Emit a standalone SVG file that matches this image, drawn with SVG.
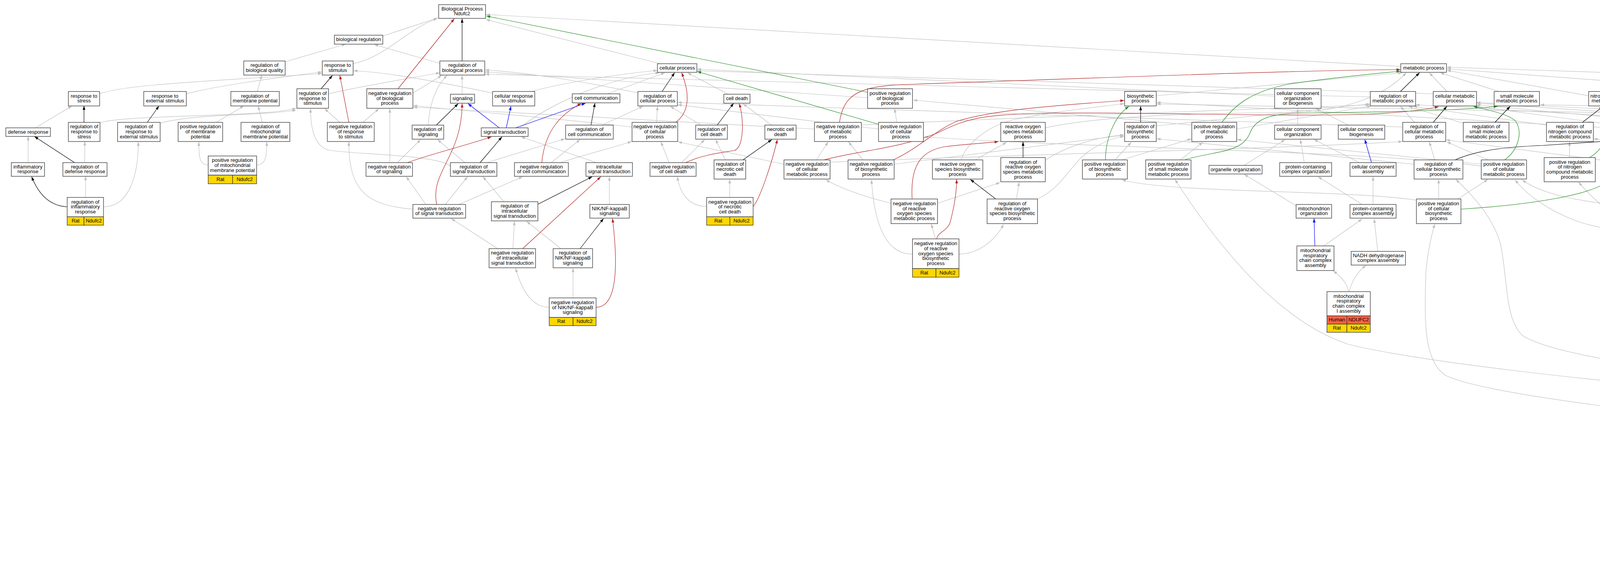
<svg xmlns="http://www.w3.org/2000/svg" width="6466" height="1435" viewBox="0 0 6466 1435">
<defs>
<marker id="ag" viewBox="0 0 10 7" refX="10" refY="3.5" markerWidth="10" markerHeight="7" orient="auto" markerUnits="userSpaceOnUse"><path d="M0,0L10,3.5L0,7z" fill="#c0c0c0"/></marker>
<marker id="ak" viewBox="0 0 10 7" refX="10" refY="3.5" markerWidth="10" markerHeight="7" orient="auto" markerUnits="userSpaceOnUse"><path d="M0,0L10,3.5L0,7z" fill="#000"/></marker>
<marker id="ar" viewBox="0 0 10 7" refX="10" refY="3.5" markerWidth="10" markerHeight="7" orient="auto" markerUnits="userSpaceOnUse"><path d="M0,0L10,3.5L0,7z" fill="#b22222"/></marker>
<marker id="agr" viewBox="0 0 10 7" refX="10" refY="3.5" markerWidth="10" markerHeight="7" orient="auto" markerUnits="userSpaceOnUse"><path d="M0,0L10,3.5L0,7z" fill="#228b22"/></marker>
<marker id="ab" viewBox="0 0 10 7" refX="10" refY="3.5" markerWidth="10" markerHeight="7" orient="auto" markerUnits="userSpaceOnUse"><path d="M0,0L10,3.5L0,7z" fill="#0000ff"/></marker>
</defs>
<style>
.n rect{fill:#fff;stroke:#333;stroke-width:1.3}
.n rect.gd{fill:#ffd700}
.n rect.hu{fill:#ff6347}
text{font-family:"Liberation Sans",Arial,sans-serif;font-size:13px;text-anchor:middle;fill:#000}
#edges path{fill:none;stroke-width:1.2}
.e{stroke:#c0c0c0;marker-end:url(#ag)}
.k{stroke:#000;marker-end:url(#ak)}
.r{stroke:#b22222;marker-end:url(#ar)}
.g{stroke:#228b22;marker-end:url(#agr)}
.b{stroke:#0000ff;marker-end:url(#ab)}
</style>
<rect width="6466" height="1435" fill="#fff"/>
<g id="edges">
<path class="e" d="M91,327 L184,271"/>
<path class="e" d="M256,314 C320,292 700,300 758,276"/>
<path class="e" d="M410,315 C500,290 700,295 758,281"/>
<path class="e" d="M554,313 L624,271"/>
<path class="e" d="M671,313 L661,271"/>
<path class="e" d="M217,416 L217,362"/>
<path class="e" d="M72,416 L72,349"/>
<path class="e" d="M219,505 L219,451"/>
<path class="e" d="M265,529 C330,529 354,450 354,363"/>
<path class="e" d="M533,422 C510,422 509,400 509,363"/>
<path class="e" d="M657,422 C680,422 683,400 683,363"/>
<path class="e" d="M659,234 L670,192"/>
<path class="e" d="M730,158 L885,113"/>
<path class="e" d="M255,240 C320,214 600,205 824,188"/>
<path class="e" d="M477,240 C550,220 700,200 824,184"/>
<path class="e" d="M870,313 L831,278"/>
<path class="e" d="M929,313 L970,278"/>
<path class="e" d="M841,240 C900,225 1050,200 1126,186"/>
<path class="e" d="M1057,238 L1131,193"/>
<path class="e" d="M904,163 C990,145 1040,75 1120,47"/>
<path class="e" d="M980,92 L1121,46"/>
<path class="e" d="M1126,162 L958,114"/>
<path class="e" d="M1183,241 L1183,193"/>
<path class="e" d="M1096,320 C1100,260 1120,215 1145,193"/>
<path class="e" d="M998,416 L998,278"/>
<path class="e" d="M1017,416 L1077,357"/>
<path class="e" d="M1057,535 C940,525 893,490 893,363"/>
<path class="e" d="M1090,523 L1040,452"/>
<path class="e" d="M1140,523 L1197,452"/>
<path class="e" d="M1175,523 L1338,452"/>
<path class="e" d="M1190,416 L1120,357"/>
<path class="e" d="M1246,416 L1446,355"/>
<path class="e" d="M1153,425 C1120,395 900,395 842,384 C805,375 795,330 795,278"/>
<path class="e" d="M1411,416 L1485,357"/>
<path class="e" d="M1435,416 C1500,395 1560,380 1617,362"/>
<path class="e" d="M1527,416 L1334,350"/>
<path class="e" d="M1331,327 C1400,270 1550,200 1688,186"/>
<path class="e" d="M1261,238 C1150,215 1000,185 905,181"/>
<path class="e" d="M1360,234 C1450,210 1580,190 1683,180"/>
<path class="e" d="M1555,240 L1702,186"/>
<path class="e" d="M1635,238 C1500,210 1350,185 1242,179"/>
<path class="e" d="M1864,241 L1760,186"/>
<path class="e" d="M1541,320 L1646,272"/>
<path class="e" d="M1681,313 L1683,272"/>
<path class="e" d="M1618,325 C1400,300 1200,285 1058,270"/>
<path class="e" d="M1794,320 L1716,272"/>
<path class="e" d="M1975,320 L1902,265"/>
<path class="e" d="M1745,416 L1804,357"/>
<path class="e" d="M1713,416 L1692,363"/>
<path class="e" d="M1857,409 L1832,357"/>
<path class="e" d="M1868,505 L1868,459"/>
<path class="e" d="M1809,528 C1760,528 1740,490 1734,452"/>
<path class="e" d="M1290,516 L1236,452"/>
<path class="e" d="M1313,636 L1317,566"/>
<path class="e" d="M1274,636 L1155,559"/>
<path class="e" d="M1436,636 L1348,566"/>
<path class="e" d="M1560,523 L1560,452"/>
<path class="e" d="M1467,762 L1467,686"/>
<path class="e" d="M1406,786 C1360,786 1335,740 1320,686"/>
<path class="e" d="M1690,163 L1244,50"/>
<path class="e" d="M3586,170 L1244,37"/>
<path class="e" d="M2221,250 L1242,184"/>
<path class="e" d="M2296,313 L2290,278"/>
<path class="e" d="M2249,330 L1735,268"/>
<path class="e" d="M2085,330 C1700,310 1300,290 1058,274"/>
<path class="e" d="M2205,320 C2600,300 3200,280 3506,268"/>
<path class="e" d="M2090,409 L2120,363"/>
<path class="e" d="M2007,420 L1736,363"/>
<path class="e" d="M2125,415 C2600,395 3300,380 3590,362"/>
<path class="e" d="M2209,409 L2172,363"/>
<path class="e" d="M2289,420 L2877,346"/>
<path class="e" d="M2400,520 L2560,467"/>
<path class="e" d="M2281,520 C2200,500 2150,480 2114,460"/>
<path class="e" d="M2602,509 L2609,466"/>
<path class="e" d="M2656,509 C2720,480 2740,420 2790,385 C2820,365 2850,352 2878,349"/>
<path class="e" d="M2395,611 L2384,573"/>
<path class="e" d="M2336,650 C2280,650 2240,600 2231,460"/>
<path class="e" d="M2455,650 C2500,650 2545,620 2569,574"/>
<path class="e" d="M2496,409 L2577,364"/>
<path class="e" d="M2461,409 C2470,370 2530,320 2600,305 C2700,285 2800,275 2878,265"/>
<path class="e" d="M2676,410 C2720,380 2800,350 2877,345"/>
<path class="e" d="M2676,327 C2800,300 3000,290 3300,288 C3450,286 3550,240 3600,186"/>
<path class="e" d="M2960,322 L3507,266"/>
<path class="e" d="M2960,245 L3590,186"/>
<path class="e" d="M2854,409 L2896,364"/>
<path class="e" d="M2872,409 L3050,355"/>
<path class="e" d="M3022,409 L3079,364"/>
<path class="e" d="M3051,320 L2338,256"/>
<path class="e" d="M3166,330 L3510,271"/>
<path class="e" d="M3792,425 C3500,385 2800,380 2366,350"/>
<path class="e" d="M3185,423 L3290,357"/>
<path class="e" d="M3339,416 L3329,357"/>
<path class="e" d="M3480,416 L3364,357"/>
<path class="e" d="M3322,320 L3322,278"/>
<path class="e" d="M3452,320 L3369,278"/>
<path class="e" d="M3263,246 L1785,177"/>
<path class="e" d="M3318,526 L3185,446"/>
<path class="e" d="M3487,523 L3374,452"/>
<path class="e" d="M3515,523 L3515,452"/>
<path class="e" d="M3389,629 L3487,560"/>
<path class="e" d="M3527,643 L3518,560"/>
<path class="e" d="M3452,746 C3450,725 3430,705 3413,693"/>
<path class="e" d="M3454,746 C3460,720 3475,695 3497,679"/>
<path class="e" d="M3508,248 L1242,190"/>
<path class="e" d="M3704,234 L3659,186"/>
<path class="e" d="M3669,240 L1785,181"/>
<path class="e" d="M3837,234 L3687,186"/>
<path class="e" d="M4067,245 L3704,180"/>
<path class="e" d="M4625,245 L3704,176"/>
<path class="e" d="M5929,245 L3704,172"/>
<path class="e" d="M3621,313 L3585,272"/>
<path class="e" d="M3591,325 L1735,262"/>
<path class="e" d="M3748,316 L3606,272"/>
<path class="e" d="M3959,320 L3618,272"/>
<path class="e" d="M4175,330 L2961,262"/>
<path class="e" d="M4175,325 L3777,272"/>
<path class="e" d="M4443,330 L3780,268"/>
<path class="e" d="M4625,325 L3624,268"/>
<path class="e" d="M4784,330 L3780,264"/>
<path class="e" d="M4945,322 L3780,262"/>
<path class="e" d="M5121,320 L4188,268"/>
<path class="e" d="M5669,322 L5920,270"/>
<path class="e" d="M5931,313 L5966,272"/>
<path class="e" d="M5837,320 L4188,264"/>
<path class="e" d="M6046,313 L6008,272"/>
<path class="e" d="M6015,325 L2961,266"/>
<path class="e" d="M6291,322 L6050,261"/>
<path class="e" d="M3673,409 L3659,363"/>
<path class="e" d="M3620,420 L2961,355"/>
<path class="e" d="M3809,409 L3704,363"/>
<path class="e" d="M3792,420 L3167,357"/>
<path class="e" d="M4018,403 L4018,363"/>
<path class="e" d="M4181,420 L3702,358"/>
<path class="e" d="M3683,509 L3683,459"/>
<path class="e" d="M3732,509 L3809,459"/>
<path class="e" d="M3626,512 C3450,485 3000,495 2872,460"/>
<path class="e" d="M4234,516 L4243,459"/>
<path class="e" d="M4169,529 C4050,515 3950,500 3897,460"/>
<path class="e" d="M4362,516 L4285,459"/>
<path class="e" d="M4234,636 L4230,566"/>
<path class="e" d="M4270,636 L4362,566"/>
<path class="e" d="M4601,409 L4538,357"/>
<path class="e" d="M4700,509 C4720,470 4725,420 4709,363"/>
<path class="e" d="M4609,525 C4400,480 4300,380 4080,355"/>
<path class="e" d="M4489,629 L4601,573"/>
<path class="e" d="M4369,629 C4300,600 4150,600 4050,570 C3960,540 3900,490 3879,460"/>
<path class="e" d="M4340,658 C4250,620 4150,590 4041,466"/>
<path class="e" d="M5440,643 L5454,566"/>
<path class="e" d="M5489,643 L6127,452"/>
<path class="e" d="M5364,660 C5000,640 4850,560 4695,460"/>
<path class="e" d="M5436,516 L5377,459"/>
<path class="e" d="M5532,526 C5650,505 5820,490 5826,420 C5830,350 5800,300 5750,296 C5500,290 4500,280 3943,268"/>
<path class="e" d="M4836,409 L4836,357"/>
<path class="e" d="M4992,409 L5002,363"/>
<path class="e" d="M5171,409 L5179,363"/>
<path class="e" d="M5288,412 L4888,357"/>
<path class="e" d="M5300,409 L5076,362"/>
<path class="e" d="M5305,409 L5232,363"/>
<path class="e" d="M5401,409 L5535,363"/>
<path class="e" d="M5340,409 C5340,360 5320,310 5270,300 C5100,280 4900,270 4740,257"/>
<path class="e" d="M5484,409 L5254,349"/>
<path class="e" d="M5552,409 L5580,363"/>
<path class="e" d="M5577,409 L5836,350"/>
<path class="e" d="M5682,409 L5636,363"/>
<path class="e" d="M5786,412 L6008,363"/>
<path class="e" d="M5938,409 L5920,363"/>
<path class="e" d="M5983,409 L6039,363"/>
<path class="e" d="M6180,416 C6185,340 6140,285 6047,266"/>
<path class="e" d="M6135,416 C6000,380 5500,374 4900,372 C4700,370 4600,365 4570,357"/>
<path class="e" d="M6355,409 L6355,363"/>
<path class="e" d="M6302,409 L6134,357"/>
<path class="e" d="M4796,420 L4301,350"/>
<path class="e" d="M5092,418 L4301,354"/>
<path class="e" d="M4951,516 L4871,459"/>
<path class="e" d="M4985,516 L4985,459"/>
<path class="e" d="M5029,516 L5120,459"/>
<path class="e" d="M5057,526 C5300,520 5500,500 5661,459"/>
<path class="e" d="M5162,520 L5039,459"/>
<path class="e" d="M5211,516 L5183,459"/>
<path class="e" d="M5297,522 L5478,459"/>
<path class="e" d="M5297,530 C5500,510 5700,490 5880,459"/>
<path class="e" d="M6061,516 L6159,452"/>
<path class="e" d="M6036,516 C6050,470 6060,420 6068,363"/>
<path class="e" d="M6180,523 L6180,452"/>
<path class="e" d="M6145,523 C6100,490 5950,485 5566,481 C5000,478 4800,480 4701,455"/>
<path class="e" d="M6238,532 C6350,520 6460,510 6455,450 C6450,410 6430,380 6418,363"/>
<path class="e" d="M6082,636 L6039,566"/>
<path class="e" d="M6120,636 L6166,559"/>
<path class="e" d="M6156,640 C6250,610 6320,540 6341,459"/>
<path class="e" d="M5081,780 L5377,679"/>
<path class="e" d="M5405,780 L5426,679"/>
<path class="e" d="M5555,773 L5454,679"/>
<path class="e" d="M5587,773 C5600,700 5640,610 5720,590 L5966,552"/>
<path class="e" d="M5570,773 C5580,700 5540,610 5470,590 C5300,580 5150,578 5060,565"/>
<path class="e" d="M4667,886 L4675,573"/>
<path class="e" d="M4601,893 C4560,870 4545,830 4545,760 C4545,640 4510,600 4457,566"/>
<path class="e" d="M4962,894 L5011,817"/>
<path class="e" d="M4976,894 C5050,875 5300,878 5400,870 C5480,860 5530,840 5552,823"/>
<path class="e" d="M5106,894 L5046,817"/>
<path class="e" d="M5137,894 L5478,459"/>
<path class="e" d="M5302,894 L5082,817"/>
<path class="e" d="M5400,894 C5550,860 5700,800 5703,732 C5710,660 5800,645 6145,559"/>
<path class="e" d="M5527,886 L5426,817"/>
<path class="e" d="M5671,893 L5430,817"/>
<path class="e" d="M5833,886 L5654,823"/>
<path class="e" d="M4545,977 L4611,937"/>
<path class="e" d="M4481,977 L4425,693"/>
<path class="e" d="M4433,1000 C4100,980 3600,920 3450,880 C3300,830 3150,680 3008,459"/>
<path class="e" d="M4666,977 L4667,937"/>
<path class="e" d="M4594,990 C4400,960 4000,920 3900,860 C3850,820 3860,700 3840,620 C3820,550 3760,490 3727,459"/>
<path class="e" d="M4886,985 L4734,936"/>
<path class="e" d="M5109,977 L5113,930"/>
<path class="e" d="M5057,977 L4983,930"/>
<path class="e" d="M5155,977 C5220,950 5250,900 5250,800 C5250,700 5245,620 5232,566"/>
<path class="e" d="M5236,985 L5155,930"/>
<path class="e" d="M5285,985 L5337,930"/>
<path class="e" d="M5400,977 L5375,930"/>
<path class="e" d="M5426,977 C5440,920 5550,880 5700,850 L6064,686"/>
<path class="e" d="M5573,977 L5573,937"/>
<path class="e" d="M5622,977 L5692,937"/>
<path class="e" d="M5689,977 L5619,937"/>
<path class="e" d="M5800,977 L5864,937"/>
<path class="e" d="M5845,980 L5780,937"/>
<path class="e" d="M5899,972 L5903,937"/>
<path class="e" d="M4666,1071 L4666,1029"/>
<path class="e" d="M4609,1071 L4538,1029"/>
<path class="e" d="M4609,1095 C4300,1065 3800,1010 3700,960 C3640,920 3648,800 3650,700 C3655,640 3665,600 3673,573"/>
<path class="e" d="M4864,1077 L4916,1029"/>
<path class="e" d="M4783,1077 C4700,1060 4600,1045 4545,1030"/>
<path class="e" d="M4980,1071 L4962,1029"/>
<path class="e" d="M4944,1075 L4741,1016"/>
<path class="e" d="M5264,1077 L5264,1021"/>
<path class="e" d="M5221,1077 L5144,1029"/>
<path class="e" d="M5328,1088 L5377,1029"/>
<path class="e" d="M5433,1084 L5538,1029"/>
<path class="e" d="M5374,1092 L5295,1021"/>
<path class="e" d="M5636,1071 L5604,1029"/>
<path class="e" d="M5689,1071 L5713,1036"/>
<path class="e" d="M5728,1075 L5836,1036"/>
<path class="e" d="M4990,1169 L4994,1134"/>
<path class="e" d="M4934,1169 L4874,1128"/>
<path class="e" d="M4923,1182 L4727,1132"/>
<path class="e" d="M5204,1176 L5004,1029"/>
<path class="e" d="M5398,1182 L5415,1120"/>
<path class="e" d="M5443,1185 L5594,1132"/>
<path class="e" d="M5335,1190 L5299,1128"/>
<path class="e" d="M5155,1268 L5208,1226"/>
<path class="e" d="M5061,1288 C4950,1270 4850,1240 4843,1128"/>
<path class="e" d="M5267,1268 L5257,1226"/>
<path class="e" d="M5232,1268 L5039,1134"/>
<path class="e" d="M5135,1377 C5115,1375 5113,1350 5113,1319"/>
<path class="e" d="M5258,1377 C5280,1375 5281,1350 5281,1319"/>
<path class="e" d="M5135,1380 C5050,1370 5010,1300 4997,1232"/>
<path class="k" d="M215,313 L215,271"/>
<path class="k" d="M377,313 L407,271"/>
<path class="k" d="M191,416 L88,349"/>
<path class="k" d="M172,529 C130,527 100,500 81,452"/>
<path class="k" d="M822,227 L851,193"/>
<path class="k" d="M1183,156 L1183,48"/>
<path class="k" d="M1117,320 L1173,265"/>
<path class="k" d="M1229,416 L1285,350"/>
<path class="k" d="M1513,320 L1523,264"/>
<path class="k" d="M1695,234 L1727,186"/>
<path class="k" d="M1836,320 L1878,264"/>
<path class="k" d="M1902,409 L1976,357"/>
<path class="k" d="M1376,523 L1516,452"/>
<path class="k" d="M1485,636 L1545,559"/>
<path class="k" d="M2549,509 L2484,459"/>
<path class="k" d="M2619,403 L2619,363"/>
<path class="k" d="M2920,313 L2920,272"/>
<path class="k" d="M3585,234 L3634,186"/>
<path class="k" d="M3669,313 L3704,272"/>
<path class="k" d="M3827,313 L3866,272"/>
<path class="k" d="M4051,313 L4104,272"/>
<path class="k" d="M4682,313 L4682,272"/>
<path class="k" d="M3725,409 C3780,385 3850,376 3950,372 L4172,357"/>
<path class="k" d="M4300,409 L4464,357"/>
<path class="k" d="M4450,516 L4580,459"/>
<path class="k" d="M4747,523 C4900,500 5200,490 5295,459"/>
<path class="k" d="M4731,890 L4973,817"/>
<path class="k" d="M4731,977 L4885,930"/>
<path class="k" d="M4994,977 L5085,930"/>
<path class="k" d="M5029,1071 L5074,1029"/>
<path class="k" d="M5289,1176 L5380,1121"/>
<path class="k" d="M5306,1268 L5345,1219"/>
<path class="r" d="M893,313 L870,193"/>
<path class="r" d="M1019,227 L1163,48"/>
<path class="r" d="M1043,416 C1100,395 1200,370 1258,350"/>
<path class="r" d="M1118,523 C1100,440 1183,400 1183,265"/>
<path class="r" d="M1387,416 C1395,330 1440,290 1488,264"/>
<path class="r" d="M1730,313 C1760,290 1770,250 1745,186"/>
<path class="r" d="M1755,416 C1800,395 1850,390 1880,385 C1905,378 1905,300 1892,265"/>
<path class="r" d="M1928,528 C1945,510 1975,420 1990,357"/>
<path class="r" d="M1338,636 L1538,452"/>
<path class="r" d="M1526,786 C1575,786 1585,700 1568,559"/>
<path class="r" d="M2149,313 C2160,240 2200,220 2320,216 C2800,200 3300,180 3585,178"/>
<path class="r" d="M2109,409 C2200,385 2300,380 2400,340 C2480,300 2520,295 2650,290 C2900,285 3300,300 3500,292 C3600,288 3650,280 3683,273"/>
<path class="r" d="M2287,409 C2350,380 2400,330 2450,310 C2550,280 2700,270 2878,257"/>
<path class="r" d="M2335,509 C2330,420 2360,385 2420,375 C2480,368 2530,366 2556,362"/>
<path class="r" d="M2398,611 C2400,595 2425,590 2432,570 C2440,540 2449,500 2449,459"/>
<path class="g" d="M2221,236 L1245,41"/>
<path class="g" d="M2249,318 L1785,183"/>
<path class="g" d="M2830,409 C2830,360 2850,300 2890,272"/>
<path class="g" d="M3034,408 C3120,385 3180,390 3200,340 C3215,300 3260,290 3340,289 C3500,287 3700,285 3834,272"/>
<path class="g" d="M3128,313 C3160,270 3200,235 3300,215 C3400,200 3500,190 3585,182"/>
<path class="g" d="M3852,409 C3885,385 3900,340 3880,310 C3860,290 3800,280 3772,272"/>
<path class="g" d="M4069,403 C4110,380 4125,330 4125,272"/>
<path class="g" d="M3740,535 C3900,525 4100,500 4130,450 C4150,400 4180,370 4203,357"/>
<path class="g" d="M4275,516 C4350,480 4440,420 4492,357"/>
<path class="g" d="M4285,636 C4350,600 4450,600 4500,560 C4560,520 4600,480 4615,459"/>
<path class="g" d="M4495,659 C4800,650 5080,620 5100,560 C5115,500 5200,470 5299,459"/>
<path class="g" d="M4538,977 C4600,955 4700,945 4780,895 C4860,845 4930,830 4987,817"/>
<path class="g" d="M4720,1071 C4770,1030 4790,960 4878,930"/>
<path class="g" d="M4832,1077 C4825,1000 4860,955 4950,945 L5078,930"/>
<path class="g" d="M5047,1169 C5080,1140 5100,1080 5100,1029"/>
<path class="g" d="M5122,1268 C5130,1200 5200,1150 5300,1140 L5384,1120"/>
<path class="g" d="M5258,1373 C5320,1365 5370,1320 5387,1219"/>
<path class="b" d="M1278,327 L1198,265"/>
<path class="b" d="M1296,327 L1308,272"/>
<path class="b" d="M1320,327 L1499,264"/>
<path class="b" d="M3511,416 L3494,357"/>
<path class="b" d="M3366,629 L3364,559"/>
</g>
<g id="n1" class="n"><rect x="1123" y="12" width="120" height="35"/><text x="1183" y="26.6">Biological Process<tspan x="1183" dy="12.7">Ndufc2</tspan></text></g>
<g id="n2" class="n"><rect x="856" y="90" width="124" height="23"/><text x="918" y="105">biological regulation</text></g>
<g id="n3" class="n"><rect x="624" y="156" width="106" height="36"/><text x="677" y="171.2">regulation of<tspan x="677" dy="12.7">biological quality</tspan></text></g>
<g id="n4" class="n"><rect x="825" y="156" width="79" height="36"/><text x="864.5" y="171.2">response to<tspan x="864.5" dy="12.7">stimulus</tspan></text></g>
<g id="n5" class="n"><rect x="1126" y="156" width="115" height="36"/><text x="1183.5" y="171.2">regulation of<tspan x="1183.5" dy="12.7">biological process</tspan></text></g>
<g id="n6" class="n"><rect x="1683" y="163" width="101" height="22"/><text x="1733.5" y="177.5">cellular process</text></g>
<g id="n7" class="n"><rect x="3586" y="163" width="117" height="22"/><text x="3644.5" y="177.5">metabolic process</text></g>
<g id="n8" class="n"><rect x="175" y="234" width="80" height="37"/><text x="215" y="249.7">response to<tspan x="215" dy="12.7">stress</tspan></text></g>
<g id="n9" class="n"><rect x="368" y="234" width="109" height="37"/><text x="422.5" y="249.7">response to<tspan x="422.5" dy="12.7">external stimulus</tspan></text></g>
<g id="n10" class="n"><rect x="591" y="234" width="124" height="37"/><text x="653" y="249.7">regulation of<tspan x="653" dy="12.7">membrane potential</tspan></text></g>
<g id="n11" class="n"><rect x="760" y="227" width="81" height="50"/><text x="800.5" y="242.8">regulation of<tspan x="800.5" dy="12.7">response to</tspan><tspan x="800.5" dy="12.7">stimulus</tspan></text></g>
<g id="n12" class="n"><rect x="939" y="227" width="118" height="50"/><text x="998" y="242.8">negative regulation<tspan x="998" dy="12.7">of biological</tspan><tspan x="998" dy="12.7">process</tspan></text></g>
<g id="n13" class="n"><rect x="1153" y="241" width="62" height="23"/><text x="1184" y="256">signaling</text></g>
<g id="n14" class="n"><rect x="1261" y="234" width="108" height="37"/><text x="1315" y="249.7">cellular response<tspan x="1315" dy="12.7">to stimulus</tspan></text></g>
<g id="n15" class="n"><rect x="1465" y="240" width="122" height="23"/><text x="1526" y="255">cell communication</text></g>
<g id="n16" class="n"><rect x="1633" y="234" width="101" height="37"/><text x="1683.5" y="249.7">regulation of<tspan x="1683.5" dy="12.7">cellular process</tspan></text></g>
<g id="n17" class="n"><rect x="1853" y="241" width="67" height="23"/><text x="1886.5" y="256">cell death</text></g>
<g id="n18" class="n"><rect x="2221" y="227" width="115" height="50"/><text x="2278.5" y="242.8">positive regulation<tspan x="2278.5" dy="12.7">of biological</tspan><tspan x="2278.5" dy="12.7">process</tspan></text></g>
<g id="n19" class="n"><rect x="2879" y="234" width="81" height="37"/><text x="2919.5" y="249.7">biosynthetic<tspan x="2919.5" dy="12.7">process</tspan></text></g>
<g id="n20" class="n"><rect x="3263" y="227" width="119" height="50"/><text x="3322.5" y="242.8">cellular component<tspan x="3322.5" dy="12.7">organization</tspan><tspan x="3322.5" dy="12.7">or biogenesis</tspan></text></g>
<g id="n21" class="n"><rect x="3508" y="234" width="116" height="37"/><text x="3566" y="249.7">regulation of<tspan x="3566" dy="12.7">metabolic process</tspan></text></g>
<g id="n22" class="n"><rect x="3669" y="234" width="111" height="37"/><text x="3724.5" y="249.7">cellular metabolic<tspan x="3724.5" dy="12.7">process</tspan></text></g>
<g id="n23" class="n"><rect x="3825" y="234" width="116" height="37"/><text x="3883" y="249.7">small molecule<tspan x="3883" dy="12.7">metabolic process</tspan></text></g>
<g id="n24" class="n"><rect x="4067" y="234" width="120" height="37"/><text x="4127" y="249.7">nitrogen compound<tspan x="4127" dy="12.7">metabolic process</tspan></text></g>
<g id="n25" class="n"><rect x="4625" y="234" width="113" height="37"/><text x="4681.5" y="249.7">primary metabolic<tspan x="4681.5" dy="12.7">process</tspan></text></g>
<g id="n26" class="n"><rect x="5929" y="234" width="116" height="37"/><text x="5987" y="249.7">organic substance<tspan x="5987" dy="12.7">metabolic process</tspan></text></g>
<g id="n27" class="n"><rect x="15" y="327" width="114" height="22"/><text x="72" y="341.5">defense response</text></g>
<g id="n28" class="n"><rect x="175" y="313" width="81" height="49"/><text x="215.5" y="328.3">regulation of<tspan x="215.5" dy="12.7">response to</tspan><tspan x="215.5" dy="12.7">stress</tspan></text></g>
<g id="n29" class="n"><rect x="301" y="313" width="109" height="49"/><text x="355.5" y="328.3">regulation of<tspan x="355.5" dy="12.7">response to</tspan><tspan x="355.5" dy="12.7">external stimulus</tspan></text></g>
<g id="n30" class="n"><rect x="456" y="313" width="114" height="49"/><text x="513" y="328.3">positive regulation<tspan x="513" dy="12.7">of membrane</tspan><tspan x="513" dy="12.7">potential</tspan></text></g>
<g id="n31" class="n"><rect x="617" y="313" width="125" height="49"/><text x="679.5" y="328.3">regulation of<tspan x="679.5" dy="12.7">mitochondrial</tspan><tspan x="679.5" dy="12.7">membrane potential</tspan></text></g>
<g id="n32" class="n"><rect x="838" y="313" width="120" height="49"/><text x="898" y="328.3">negative regulation<tspan x="898" dy="12.7">of response</tspan><tspan x="898" dy="12.7">to stimulus</tspan></text></g>
<g id="n33" class="n"><rect x="1055" y="320" width="81" height="36"/><text x="1095.5" y="335.2">regulation of<tspan x="1095.5" dy="12.7">signaling</tspan></text></g>
<g id="n34" class="n"><rect x="1232" y="327" width="120" height="22"/><text x="1292" y="341.5">signal transduction</text></g>
<g id="n35" class="n"><rect x="1448" y="320" width="122" height="36"/><text x="1509" y="335.2">regulation of<tspan x="1509" dy="12.7">cell communication</tspan></text></g>
<g id="n36" class="n"><rect x="1618" y="313" width="117" height="49"/><text x="1676.5" y="328.3">negative regulation<tspan x="1676.5" dy="12.7">of cellular</tspan><tspan x="1676.5" dy="12.7">process</tspan></text></g>
<g id="n37" class="n"><rect x="1781" y="320" width="81" height="36"/><text x="1821.5" y="335.2">regulation of<tspan x="1821.5" dy="12.7">cell death</tspan></text></g>
<g id="n38" class="n"><rect x="1958" y="320" width="80" height="36"/><text x="1998" y="335.2">necrotic cell<tspan x="1998" dy="12.7">death</tspan></text></g>
<g id="n39" class="n"><rect x="2085" y="313" width="120" height="49"/><text x="2145" y="328.3">negative regulation<tspan x="2145" dy="12.7">of metabolic</tspan><tspan x="2145" dy="12.7">process</tspan></text></g>
<g id="n40" class="n"><rect x="2249" y="313" width="115" height="49"/><text x="2306.5" y="328.3">positive regulation<tspan x="2306.5" dy="12.7">of cellular</tspan><tspan x="2306.5" dy="12.7">process</tspan></text></g>
<g id="n41" class="n"><rect x="2562" y="313" width="114" height="49"/><text x="2619" y="328.3">reactive oxygen<tspan x="2619" dy="12.7">species metabolic</tspan><tspan x="2619" dy="12.7">process</tspan></text></g>
<g id="n42" class="n"><rect x="2879" y="313" width="81" height="49"/><text x="2919.5" y="328.3">regulation of<tspan x="2919.5" dy="12.7">biosynthetic</tspan><tspan x="2919.5" dy="12.7">process</tspan></text></g>
<g id="n43" class="n"><rect x="3051" y="313" width="115" height="49"/><text x="3108.5" y="328.3">positive regulation<tspan x="3108.5" dy="12.7">of metabolic</tspan><tspan x="3108.5" dy="12.7">process</tspan></text></g>
<g id="n44" class="n"><rect x="3263" y="320" width="119" height="36"/><text x="3322.5" y="335.2">cellular component<tspan x="3322.5" dy="12.7">organization</tspan></text></g>
<g id="n45" class="n"><rect x="3426" y="320" width="119" height="36"/><text x="3485.5" y="335.2">cellular component<tspan x="3485.5" dy="12.7">biogenesis</tspan></text></g>
<g id="n46" class="n"><rect x="3591" y="313" width="110" height="49"/><text x="3646" y="328.3">regulation of<tspan x="3646" dy="12.7">cellular metabolic</tspan><tspan x="3646" dy="12.7">process</tspan></text></g>
<g id="n47" class="n"><rect x="3746" y="313" width="117" height="49"/><text x="3804.5" y="328.3">regulation of<tspan x="3804.5" dy="12.7">small molecule</tspan><tspan x="3804.5" dy="12.7">metabolic process</tspan></text></g>
<g id="n48" class="n"><rect x="3959" y="313" width="120" height="49"/><text x="4019" y="328.3">regulation of<tspan x="4019" dy="12.7">nitrogen compound</tspan><tspan x="4019" dy="12.7">metabolic process</tspan></text></g>
<g id="n49" class="n"><rect x="4175" y="320" width="125" height="36"/><text x="4237.5" y="335.2">cellular biosynthetic<tspan x="4237.5" dy="12.7">process</tspan></text></g>
<g id="n50" class="n"><rect x="4443" y="320" width="137" height="36"/><text x="4511.5" y="335.2">phosphorus metabolic<tspan x="4511.5" dy="12.7">process</tspan></text></g>
<g id="n51" class="n"><rect x="4625" y="313" width="113" height="49"/><text x="4681.5" y="328.3">regulation of<tspan x="4681.5" dy="12.7">primary metabolic</tspan><tspan x="4681.5" dy="12.7">process</tspan></text></g>
<g id="n52" class="n"><rect x="4784" y="320" width="116" height="36"/><text x="4842" y="335.2">heterocycle<tspan x="4842" dy="12.7">metabolic process</tspan></text></g>
<g id="n53" class="n"><rect x="4945" y="313" width="131" height="49"/><text x="5010.5" y="328.3">cellular aromatic<tspan x="5010.5" dy="12.7">compound metabolic</tspan><tspan x="5010.5" dy="12.7">process</tspan></text></g>
<g id="n54" class="n"><rect x="5121" y="313" width="131" height="49"/><text x="5186.5" y="328.3">cellular nitrogen<tspan x="5186.5" dy="12.7">compound metabolic</tspan><tspan x="5186.5" dy="12.7">process</tspan></text></g>
<g id="n55" class="n"><rect x="5539" y="313" width="130" height="49"/><text x="5604" y="328.3">organic cyclic<tspan x="5604" dy="12.7">compound metabolic</tspan><tspan x="5604" dy="12.7">process</tspan></text></g>
<g id="n56" class="n"><rect x="5837" y="313" width="131" height="49"/><text x="5902.5" y="328.3">organonitrogen<tspan x="5902.5" dy="12.7">compound metabolic</tspan><tspan x="5902.5" dy="12.7">process</tspan></text></g>
<g id="n57" class="n"><rect x="6015" y="313" width="115" height="49"/><text x="6072.5" y="328.3">organic substance<tspan x="6072.5" dy="12.7">biosynthetic</tspan><tspan x="6072.5" dy="12.7">process</tspan></text></g>
<g id="n58" class="n"><rect x="6291" y="313" width="127" height="49"/><text x="6354.5" y="328.3">carbohydrate<tspan x="6354.5" dy="12.7">derivative metabolic</tspan><tspan x="6354.5" dy="12.7">process</tspan></text></g>
<g id="n59" class="n"><rect x="29" y="416" width="85" height="35"/><text x="71.5" y="430.7">inflammatory<tspan x="71.5" dy="12.7">response</tspan></text></g>
<g id="n60" class="n"><rect x="161" y="416" width="113" height="35"/><text x="217.5" y="430.7">regulation of<tspan x="217.5" dy="12.7">defense response</tspan></text></g>
<g id="n61" class="n"><rect x="937" y="416" width="119" height="35"/><text x="996.5" y="430.7">negative regulation<tspan x="996.5" dy="12.7">of signaling</tspan></text></g>
<g id="n62" class="n"><rect x="1153" y="416" width="119" height="35"/><text x="1212.5" y="430.7">regulation of<tspan x="1212.5" dy="12.7">signal transduction</tspan></text></g>
<g id="n63" class="n"><rect x="1317" y="416" width="138" height="35"/><text x="1386" y="430.7">negative regulation<tspan x="1386" dy="12.7">of cell communication</tspan></text></g>
<g id="n64" class="n"><rect x="1500" y="416" width="119" height="35"/><text x="1559.5" y="430.7">intracellular<tspan x="1559.5" dy="12.7">signal transduction</tspan></text></g>
<g id="n65" class="n"><rect x="1664" y="416" width="118" height="35"/><text x="1723" y="430.7">negative regulation<tspan x="1723" dy="12.7">of cell death</tspan></text></g>
<g id="n66" class="n"><rect x="1828" y="409" width="81" height="49"/><text x="1868.5" y="424.3">regulation of<tspan x="1868.5" dy="12.7">necrotic cell</tspan><tspan x="1868.5" dy="12.7">death</tspan></text></g>
<g id="n67" class="n"><rect x="2007" y="409" width="118" height="49"/><text x="2066" y="424.3">negative regulation<tspan x="2066" dy="12.7">of cellular</tspan><tspan x="2066" dy="12.7">metabolic process</tspan></text></g>
<g id="n68" class="n"><rect x="2171" y="409" width="118" height="49"/><text x="2230" y="424.3">negative regulation<tspan x="2230" dy="12.7">of biosynthetic</tspan><tspan x="2230" dy="12.7">process</tspan></text></g>
<g id="n69" class="n"><rect x="2387" y="409" width="129" height="49"/><text x="2451.5" y="424.3">reactive oxygen<tspan x="2451.5" dy="12.7">species biosynthetic</tspan><tspan x="2451.5" dy="12.7">process</tspan></text></g>
<g id="n70" class="n"><rect x="2562" y="403" width="114" height="62"/><text x="2619" y="418.5">regulation of<tspan x="2619" dy="12.7">reactive oxygen</tspan><tspan x="2619" dy="12.7">species metabolic</tspan><tspan x="2619" dy="12.7">process</tspan></text></g>
<g id="n71" class="n"><rect x="2771" y="409" width="115" height="49"/><text x="2828.5" y="424.3">positive regulation<tspan x="2828.5" dy="12.7">of biosynthetic</tspan><tspan x="2828.5" dy="12.7">process</tspan></text></g>
<g id="n72" class="n"><rect x="2933" y="409" width="116" height="49"/><text x="2991" y="424.3">positive regulation<tspan x="2991" dy="12.7">of small molecule</tspan><tspan x="2991" dy="12.7">metabolic process</tspan></text></g>
<g id="n73" class="n"><rect x="3095" y="423" width="136" height="22"/><text x="3163" y="437.5">organelle organization</text></g>
<g id="n74" class="n"><rect x="3276" y="416" width="133" height="35"/><text x="3342.5" y="430.7">protein-containing<tspan x="3342.5" dy="12.7">complex organization</tspan></text></g>
<g id="n75" class="n"><rect x="3456" y="416" width="118" height="35"/><text x="3515" y="430.7">cellular component<tspan x="3515" dy="12.7">assembly</tspan></text></g>
<g id="n76" class="n"><rect x="3620" y="409" width="125" height="49"/><text x="3682.5" y="424.3">regulation of<tspan x="3682.5" dy="12.7">cellular biosynthetic</tspan><tspan x="3682.5" dy="12.7">process</tspan></text></g>
<g id="n77" class="n"><rect x="3792" y="409" width="116" height="49"/><text x="3850" y="424.3">positive regulation<tspan x="3850" dy="12.7">of cellular</tspan><tspan x="3850" dy="12.7">metabolic process</tspan></text></g>
<g id="n78" class="n"><rect x="3953" y="403" width="131" height="62"/><text x="4018.5" y="418.5">positive regulation<tspan x="4018.5" dy="12.7">of nitrogen</tspan><tspan x="4018.5" dy="12.7">compound metabolic</tspan><tspan x="4018.5" dy="12.7">process</tspan></text></g>
<g id="n79" class="n"><rect x="4181" y="409" width="138" height="49"/><text x="4250" y="424.3">regulation of<tspan x="4250" dy="12.7">phosphorus metabolic</tspan><tspan x="4250" dy="12.7">process</tspan></text></g>
<g id="n80" class="n"><rect x="4566" y="409" width="134" height="49"/><text x="4633" y="424.3">phosphate-containing<tspan x="4633" dy="12.7">compound metabolic</tspan><tspan x="4633" dy="12.7">process</tspan></text></g>
<g id="n81" class="n"><rect x="4796" y="409" width="80" height="49"/><text x="4836" y="424.3">heterocycle<tspan x="4836" dy="12.7">biosynthetic</tspan><tspan x="4836" dy="12.7">process</tspan></text></g>
<g id="n82" class="n"><rect x="4922" y="409" width="125" height="49"/><text x="4984.5" y="424.3">aromatic compound<tspan x="4984.5" dy="12.7">biosynthetic</tspan><tspan x="4984.5" dy="12.7">process</tspan></text></g>
<g id="n83" class="n"><rect x="5092" y="409" width="144" height="49"/><text x="5164" y="424.3">cellular nitrogen<tspan x="5164" dy="12.7">compound biosynthetic</tspan><tspan x="5164" dy="12.7">process</tspan></text></g>
<g id="n84" class="n"><rect x="5281" y="409" width="139" height="49"/><text x="5350.5" y="424.3">nucleobase-containing<tspan x="5350.5" dy="12.7">compound metabolic</tspan><tspan x="5350.5" dy="12.7">process</tspan></text></g>
<g id="n85" class="n"><rect x="5466" y="409" width="129" height="49"/><text x="5530.5" y="424.3">purine-containing<tspan x="5530.5" dy="12.7">compound metabolic</tspan><tspan x="5530.5" dy="12.7">process</tspan></text></g>
<g id="n86" class="n"><rect x="5641" y="409" width="145" height="49"/><text x="5713.5" y="424.3">organic cyclic<tspan x="5713.5" dy="12.7">compound biosynthetic</tspan><tspan x="5713.5" dy="12.7">process</tspan></text></g>
<g id="n87" class="n"><rect x="5882" y="409" width="143" height="49"/><text x="5953.5" y="424.3">organonitrogen<tspan x="5953.5" dy="12.7">compound biosynthetic</tspan><tspan x="5953.5" dy="12.7">process</tspan></text></g>
<g id="n88" class="n"><rect x="6123" y="416" width="115" height="35"/><text x="6180.5" y="430.7">organophosphate<tspan x="6180.5" dy="12.7">metabolic process</tspan></text></g>
<g id="n89" class="n"><rect x="6284" y="409" width="140" height="49"/><text x="6354" y="424.3">carbohydrate<tspan x="6354" dy="12.7">derivative biosynthetic</tspan><tspan x="6354" dy="12.7">process</tspan></text></g>
<g id="n90" class="n"><rect x="172" y="505" width="93" height="49.5"/><text x="218.5" y="520.5">regulation of<tspan x="218.5" dy="12.7">inflammatory</tspan><tspan x="218.5" dy="12.7">response</tspan></text><rect class="gd" x="172" y="554.5" width="43" height="21.5"/><rect class="gd" x="215" y="554.5" width="50" height="21.5"/><text x="193.5" y="568.8">Rat</text><text x="240" y="568.8">Ndufc2</text></g>
<g id="n91" class="n"><rect x="1057" y="523" width="135" height="35"/><text x="1124.5" y="537.7">negative regulation<tspan x="1124.5" dy="12.7">of signal transduction</tspan></text></g>
<g id="n92" class="n"><rect x="1258" y="516" width="119" height="49"/><text x="1317.5" y="531.3">regulation of<tspan x="1317.5" dy="12.7">intracellular</tspan><tspan x="1317.5" dy="12.7">signal transduction</tspan></text></g>
<g id="n93" class="n"><rect x="1510" y="523" width="101" height="35"/><text x="1560.5" y="537.7">NIK/NF-kappaB<tspan x="1560.5" dy="12.7">signaling</tspan></text></g>
<g id="n94" class="n"><rect x="1809" y="505" width="119" height="49.5"/><text x="1868.5" y="520.5">negative regulation<tspan x="1868.5" dy="12.7">of necrotic</tspan><tspan x="1868.5" dy="12.7">cell death</tspan></text><rect class="gd" x="1809" y="554.5" width="59.5" height="21.5"/><rect class="gd" x="1868.5" y="554.5" width="59.5" height="21.5"/><text x="1838.8" y="568.8">Rat</text><text x="1898.3" y="568.8">Ndufc2</text></g>
<g id="n95" class="n"><rect x="2281" y="509" width="119" height="63"/><text x="2340.5" y="525">negative regulation<tspan x="2340.5" dy="12.7">of reactive</tspan><tspan x="2340.5" dy="12.7">oxygen species</tspan><tspan x="2340.5" dy="12.7">metabolic process</tspan></text></g>
<g id="n96" class="n"><rect x="2527" y="509" width="129" height="63"/><text x="2591.5" y="525">regulation of<tspan x="2591.5" dy="12.7">reactive oxygen</tspan><tspan x="2591.5" dy="12.7">species biosynthetic</tspan><tspan x="2591.5" dy="12.7">process</tspan></text></g>
<g id="n97" class="n"><rect x="3318" y="523" width="91" height="35"/><text x="3363.5" y="537.7">mitochondrion<tspan x="3363.5" dy="12.7">organization</tspan></text></g>
<g id="n98" class="n"><rect x="3456" y="523" width="118" height="35"/><text x="3515" y="537.7">protein-containing<tspan x="3515" dy="12.7">complex assembly</tspan></text></g>
<g id="n99" class="n"><rect x="3626" y="509" width="114" height="63"/><text x="3683" y="525">positive regulation<tspan x="3683" dy="12.7">of cellular</tspan><tspan x="3683" dy="12.7">biosynthetic</tspan><tspan x="3683" dy="12.7">process</tspan></text></g>
<g id="n100" class="n"><rect x="4169" y="516" width="116" height="49"/><text x="4227" y="531.3">positive regulation<tspan x="4227" dy="12.7">of phosphorus</tspan><tspan x="4227" dy="12.7">metabolic process</tspan></text></g>
<g id="n101" class="n"><rect x="4331" y="516" width="130" height="49"/><text x="4396" y="531.3">regulation of<tspan x="4396" dy="12.7">phosphate metabolic</tspan><tspan x="4396" dy="12.7">process</tspan></text></g>
<g id="n102" class="n"><rect x="4609" y="509" width="138" height="63"/><text x="4678" y="525">regulation of<tspan x="4678" dy="12.7">nucleobase-containing</tspan><tspan x="4678" dy="12.7">compound metabolic</tspan><tspan x="4678" dy="12.7">process</tspan></text></g>
<g id="n103" class="n"><rect x="4914" y="516" width="143" height="49"/><text x="4985.5" y="531.3">nucleobase-containing<tspan x="4985.5" dy="12.7">compound biosynthetic</tspan><tspan x="4985.5" dy="12.7">process</tspan></text></g>
<g id="n104" class="n"><rect x="5154" y="516" width="143" height="49"/><text x="5225.5" y="531.3">purine-containing<tspan x="5225.5" dy="12.7">compound biosynthetic</tspan><tspan x="5225.5" dy="12.7">process</tspan></text></g>
<g id="n105" class="n"><rect x="5393" y="516" width="139" height="49"/><text x="5462.5" y="531.3">nucleobase-containing<tspan x="5462.5" dy="12.7">small molecule</tspan><tspan x="5462.5" dy="12.7">metabolic process</tspan></text></g>
<g id="n106" class="n"><rect x="5967" y="516" width="108" height="49"/><text x="6021" y="531.3">organophosphate<tspan x="6021" dy="12.7">biosynthetic</tspan><tspan x="6021" dy="12.7">process</tspan></text></g>
<g id="n107" class="n"><rect x="6122" y="523" width="116" height="35"/><text x="6180" y="537.7">ribose phosphate<tspan x="6180" dy="12.7">metabolic process</tspan></text></g>
<g id="n108" class="n"><rect x="1252" y="636" width="119" height="49"/><text x="1311.5" y="651.3">negative regulation<tspan x="1311.5" dy="12.7">of intracellular</tspan><tspan x="1311.5" dy="12.7">signal transduction</tspan></text></g>
<g id="n109" class="n"><rect x="1416" y="636" width="101" height="49"/><text x="1466.5" y="651.3">regulation of<tspan x="1466.5" dy="12.7">NIK/NF-kappaB</tspan><tspan x="1466.5" dy="12.7">signaling</tspan></text></g>
<g id="n110" class="n"><rect x="2336" y="611" width="119" height="76"/><text x="2395.5" y="627.1">negative regulation<tspan x="2395.5" dy="12.7">of reactive</tspan><tspan x="2395.5" dy="12.7">oxygen species</tspan><tspan x="2395.5" dy="12.7">biosynthetic</tspan><tspan x="2395.5" dy="12.7">process</tspan></text><rect class="gd" x="2336" y="687" width="60" height="22"/><rect class="gd" x="2396" y="687" width="59" height="22"/><text x="2366" y="701.5">Rat</text><text x="2425.5" y="701.5">Ndufc2</text></g>
<g id="n111" class="n"><rect x="3320" y="629" width="95" height="63"/><text x="3367.5" y="645">mitochondrial<tspan x="3367.5" dy="12.7">respiratory</tspan><tspan x="3367.5" dy="12.7">chain complex</tspan><tspan x="3367.5" dy="12.7">assembly</tspan></text></g>
<g id="n112" class="n"><rect x="3459" y="643" width="139" height="35"/><text x="3528.5" y="657.7">NADH dehydrogenase<tspan x="3528.5" dy="12.7">complex assembly</tspan></text></g>
<g id="n113" class="n"><rect x="4178" y="636" width="117" height="49"/><text x="4236.5" y="651.3">positive regulation<tspan x="4236.5" dy="12.7">of phosphate</tspan><tspan x="4236.5" dy="12.7">metabolic process</tspan></text></g>
<g id="n114" class="n"><rect x="4340" y="629" width="155" height="63"/><text x="4417.5" y="645">positive regulation<tspan x="4417.5" dy="12.7">of nucleobase-containing</tspan><tspan x="4417.5" dy="12.7">compound metabolic</tspan><tspan x="4417.5" dy="12.7">process</tspan></text></g>
<g id="n115" class="n"><rect x="5364" y="643" width="137" height="35"/><text x="5432.5" y="657.7">nucleoside phosphate<tspan x="5432.5" dy="12.7">metabolic process</tspan></text></g>
<g id="n116" class="n"><rect x="6046" y="636" width="110" height="49"/><text x="6101" y="651.3">ribose phosphate<tspan x="6101" dy="12.7">biosynthetic</tspan><tspan x="6101" dy="12.7">process</tspan></text></g>
<g id="n117" class="n"><rect x="1406" y="762" width="120" height="50"/><text x="1466" y="777.8">negative regulation<tspan x="1466" dy="12.7">of NIK/NF-kappaB</tspan><tspan x="1466" dy="12.7">signaling</tspan></text><rect class="gd" x="1406" y="812" width="61" height="21"/><rect class="gd" x="1467" y="812" width="59" height="21"/><text x="1436.5" y="826">Rat</text><text x="1496.5" y="826">Ndufc2</text></g>
<g id="n118" class="n"><rect x="3397" y="746" width="111" height="62"/><text x="3452.5" y="761.5">mitochondrial<tspan x="3452.5" dy="12.7">respiratory</tspan><tspan x="3452.5" dy="12.7">chain complex</tspan><tspan x="3452.5" dy="12.7">I assembly</tspan></text><rect class="hu" x="3397" y="808" width="51" height="21"/><rect class="hu" x="3448" y="808" width="60" height="21"/><text x="3422.5" y="822">Human</text><text x="3478" y="822">NDUFC2</text><rect class="gd" x="3397" y="829" width="51" height="21"/><rect class="gd" x="3448" y="829" width="60" height="21"/><text x="3422.5" y="843">Rat</text><text x="3478" y="843">Ndufc2</text></g>
<g id="n119" class="n"><rect x="4961" y="780" width="129" height="36"/><text x="5025.5" y="795.2">nucleotide metabolic<tspan x="5025.5" dy="12.7">process</tspan></text></g>
<g id="n120" class="n"><rect x="5325" y="780" width="147" height="36"/><text x="5398.5" y="795.2">nucleoside triphosphate<tspan x="5398.5" dy="12.7">metabolic process</tspan></text></g>
<g id="n121" class="n"><rect x="5518" y="773" width="136" height="49"/><text x="5586" y="788.3">nucleoside phosphate<tspan x="5586" dy="12.7">biosynthetic</tspan><tspan x="5586" dy="12.7">process</tspan></text></g>
<g id="n122" class="n"><rect x="4601" y="886" width="130" height="50"/><text x="4666" y="901.8">regulation of<tspan x="4666" dy="12.7">nucleotide metabolic</tspan><tspan x="4666" dy="12.7">process</tspan></text></g>
<g id="n123" class="n"><rect x="4876" y="894" width="144" height="35"/><text x="4948" y="908.7">nucleotide biosynthetic<tspan x="4948" dy="12.7">process</tspan></text></g>
<g id="n124" class="n"><rect x="5065" y="894" width="116" height="35"/><text x="5123" y="908.7">purine nucleotide<tspan x="5123" dy="12.7">metabolic process</tspan></text></g>
<g id="n125" class="n"><rect x="5297" y="894" width="116" height="35"/><text x="5355" y="908.7">ribonucleotide<tspan x="5355" dy="12.7">metabolic process</tspan></text></g>
<g id="n126" class="n"><rect x="5510" y="886" width="116" height="50"/><text x="5568" y="901.8">purine nucleoside<tspan x="5568" dy="12.7">triphosphate</tspan><tspan x="5568" dy="12.7">metabolic process</tspan></text></g>
<g id="n127" class="n"><rect x="5671" y="886" width="117" height="50"/><text x="5729.5" y="901.8">ribonucleoside<tspan x="5729.5" dy="12.7">triphosphate</tspan><tspan x="5729.5" dy="12.7">metabolic process</tspan></text></g>
<g id="n128" class="n"><rect x="5833" y="886" width="148" height="50"/><text x="5907" y="901.8">nucleoside triphosphate<tspan x="5907" dy="12.7">biosynthetic</tspan><tspan x="5907" dy="12.7">process</tspan></text></g>
<g id="n129" class="n"><rect x="4433" y="977" width="117" height="51"/><text x="4491.5" y="993.3">positive regulation<tspan x="4491.5" dy="12.7">of nucleotide</tspan><tspan x="4491.5" dy="12.7">metabolic process</tspan></text></g>
<g id="n130" class="n"><rect x="4594" y="977" width="143" height="51"/><text x="4665.5" y="993.3">regulation of<tspan x="4665.5" dy="12.7">nucleotide biosynthetic</tspan><tspan x="4665.5" dy="12.7">process</tspan></text></g>
<g id="n131" class="n"><rect x="4886" y="977" width="115" height="51"/><text x="4943.5" y="993.3">regulation of<tspan x="4943.5" dy="12.7">purine nucleotide</tspan><tspan x="4943.5" dy="12.7">metabolic process</tspan></text></g>
<g id="n132" class="n"><rect x="5047" y="977" width="107" height="51"/><text x="5100.5" y="993.3">purine nucleotide<tspan x="5100.5" dy="12.7">biosynthetic</tspan><tspan x="5100.5" dy="12.7">process</tspan></text></g>
<g id="n133" class="n"><rect x="5200" y="985" width="128" height="35"/><text x="5264" y="999.7">purine ribonucleotide<tspan x="5264" dy="12.7">metabolic process</tspan></text></g>
<g id="n134" class="n"><rect x="5374" y="977" width="92" height="51"/><text x="5420" y="993.3">ribonucleotide<tspan x="5420" dy="12.7">biosynthetic</tspan><tspan x="5420" dy="12.7">process</tspan></text></g>
<g id="n135" class="n"><rect x="5512" y="977" width="132" height="51"/><text x="5578" y="993.3">purine ribonucleoside<tspan x="5578" dy="12.7">triphosphate</tspan><tspan x="5578" dy="12.7">metabolic process</tspan></text></g>
<g id="n136" class="n"><rect x="5689" y="972" width="111" height="63"/><text x="5744.5" y="988">purine nucleoside<tspan x="5744.5" dy="12.7">triphosphate</tspan><tspan x="5744.5" dy="12.7">biosynthetic</tspan><tspan x="5744.5" dy="12.7">process</tspan></text></g>
<g id="n137" class="n"><rect x="5845" y="972" width="93" height="63"/><text x="5891.5" y="988">ribonucleoside<tspan x="5891.5" dy="12.7">triphosphate</tspan><tspan x="5891.5" dy="12.7">biosynthetic</tspan><tspan x="5891.5" dy="12.7">process</tspan></text></g>
<g id="n138" class="n"><rect x="4609" y="1071" width="115" height="62"/><text x="4666.5" y="1086.5">positive regulation<tspan x="4666.5" dy="12.7">of nucleotide</tspan><tspan x="4666.5" dy="12.7">biosynthetic</tspan><tspan x="4666.5" dy="12.7">process</tspan></text></g>
<g id="n139" class="n"><rect x="4775" y="1077" width="122" height="50"/><text x="4836" y="1092.8">positive regulation<tspan x="4836" dy="12.7">of purine nucleotide</tspan><tspan x="4836" dy="12.7">metabolic process</tspan></text></g>
<g id="n140" class="n"><rect x="4944" y="1071" width="108" height="62"/><text x="4998" y="1086.5">regulation of<tspan x="4998" dy="12.7">purine nucleotide</tspan><tspan x="4998" dy="12.7">biosynthetic</tspan><tspan x="4998" dy="12.7">process</tspan></text></g>
<g id="n141" class="n"><rect x="5200" y="1077" width="128" height="50"/><text x="5264" y="1092.8">purine ribonucleotide<tspan x="5264" dy="12.7">biosynthetic</tspan><tspan x="5264" dy="12.7">process</tspan></text></g>
<g id="n142" class="n"><rect x="5374" y="1084" width="95" height="35"/><text x="5421.5" y="1098.7">ATP metabolic<tspan x="5421.5" dy="12.7">process</tspan></text></g>
<g id="n143" class="n"><rect x="5595" y="1071" width="133" height="62"/><text x="5661.5" y="1086.5">purine ribonucleoside<tspan x="5661.5" dy="12.7">triphosphate</tspan><tspan x="5661.5" dy="12.7">biosynthetic</tspan><tspan x="5661.5" dy="12.7">process</tspan></text></g>
<g id="n144" class="n"><rect x="4923" y="1169" width="124" height="62"/><text x="4985" y="1184.5">positive regulation<tspan x="4985" dy="12.7">of purine nucleotide</tspan><tspan x="4985" dy="12.7">biosynthetic</tspan><tspan x="4985" dy="12.7">process</tspan></text></g>
<g id="n145" class="n"><rect x="5195" y="1176" width="94" height="49"/><text x="5242" y="1191.3">regulation of<tspan x="5242" dy="12.7">ATP metabolic</tspan><tspan x="5242" dy="12.7">process</tspan></text></g>
<g id="n146" class="n"><rect x="5335" y="1182" width="110" height="36"/><text x="5390" y="1197.2">ATP biosynthetic<tspan x="5390" dy="12.7">process</tspan></text></g>
<g id="n147" class="n"><rect x="5061" y="1268" width="115" height="50"/><text x="5118.5" y="1283.8">positive regulation<tspan x="5118.5" dy="12.7">of ATP metabolic</tspan><tspan x="5118.5" dy="12.7">process</tspan></text></g>
<g id="n148" class="n"><rect x="5222" y="1268" width="108" height="50"/><text x="5276" y="1283.8">regulation of<tspan x="5276" dy="12.7">ATP biosynthetic</tspan><tspan x="5276" dy="12.7">process</tspan></text></g>
<g id="n149" class="n"><rect x="5135" y="1353" width="123" height="49"/><text x="5196.5" y="1368.3">positive regulation<tspan x="5196.5" dy="12.7">of ATP biosynthetic</tspan><tspan x="5196.5" dy="12.7">process</tspan></text><rect class="gd" x="5135" y="1402" width="62" height="21"/><rect class="gd" x="5197" y="1402" width="61" height="21"/><text x="5166" y="1416">Rat</text><text x="5227.5" y="1416">Ndufc2</text></g>
<g id="n150" class="n"><rect x="533" y="399" width="124" height="49"/><text x="595" y="414.3">positive regulation<tspan x="595" dy="12.7">of mitochondrial</tspan><tspan x="595" dy="12.7">membrane potential</tspan></text><rect class="gd" x="533" y="448" width="62.5" height="22"/><rect class="gd" x="595.5" y="448" width="61.5" height="22"/><text x="564.3" y="462.5">Rat</text><text x="626.3" y="462.5">Ndufc2</text></g>
</svg>
